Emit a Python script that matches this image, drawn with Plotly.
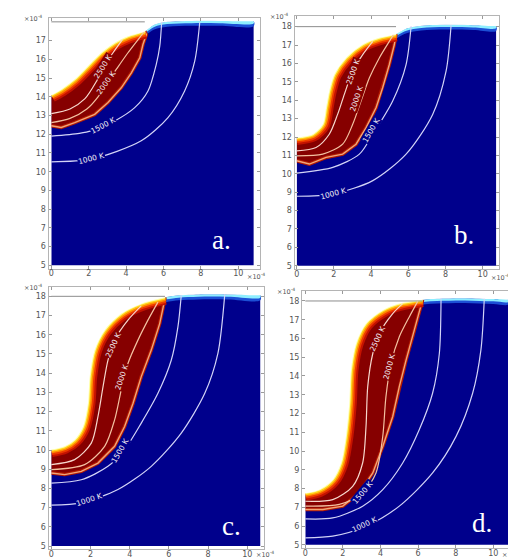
import plotly.graph_objects as go

W, H = 516, 558

# ---------------- data (lengths in units of 1e-4) ----------------
level_labels = ["2500 K", "2000 K", "1500 K", "1000 K"]
x_ticks = [0, 2, 4, 6, 8, 10]
y_ticks_a = list(range(5, 18))
y_ticks = list(range(5, 19))
panel_letters = ["a.", "b.", "c.", "d."]
x_max = [10.82, 10.72, 10.66, 10.8]

# ---- panel a ----
a_surf_x = [0, 0.53, 1.25, 1.96, 2.67, 3.39, 4.1, 5.0]
a_surf_y = [14.1, 14.39, 14.93, 15.64, 16.35, 16.88, 17.23, 17.5]
a_front_x = [0, 0.53, 1.25, 2.32, 3.03, 3.74, 4.28, 4.73, 4.9, 5.08, 5.0]
a_front_y = [12.45, 12.36, 12.62, 13.06, 13.69, 14.48, 15.28, 16.08, 16.79, 17.32, 17.5]
a_top_x = [5.0, 5.5, 6.2, 7.5, 9.0, 10.82]
a_top_y = [17.5, 17.85, 18.0, 18.05, 18.05, 18.03]
a_t2500_x = [0, 1.0, 1.8, 2.4, 2.8, 3.3, 3.8]
a_t2500_y = [13.1, 13.35, 13.9, 14.8, 15.6, 16.35, 17.05]
a_t2000_x = [0, 1.0, 1.9, 2.5, 2.95, 3.5, 4.1, 4.6, 4.95]
a_t2000_y = [12.62, 12.85, 13.35, 14.0, 14.7, 15.5, 16.35, 17.0, 17.45]
a_t1500_x = [0, 1.5, 2.14, 3.39, 4.46, 5.17, 5.61, 5.8, 5.9]
a_t1500_y = [11.9, 12.05, 12.18, 12.71, 13.42, 14.31, 15.72, 16.7, 17.97]
a_t1000_x = [0, 2.14, 4.81, 6.24, 7.13, 7.67, 7.94]
a_t1000_y = [10.53, 10.67, 11.65, 12.89, 14.31, 15.9, 17.99]
a_lab_x = [2.78, 2.95, 2.77, 2.14]
a_lab_y = [15.6, 14.75, 12.45, 10.68]
a_lab_ang = [-58, -55, -28, -14]
a_letter = (9.1, 6.35)

# ---- panel b ----
b_surf_x = [0, 0.86, 1.4, 1.58, 1.75, 2.02, 2.65, 3.55, 4.44, 5.34]
b_surf_y = [11.97, 12.15, 12.69, 13.6, 14.5, 15.4, 16.3, 17.03, 17.39, 17.6]
b_front_x = [0, 0.68, 1.58, 2.47, 3.19, 3.73, 4.27, 4.62, 4.98, 5.25, 5.34]
b_front_y = [10.71, 10.53, 10.89, 11.07, 11.61, 12.51, 13.6, 14.68, 15.94, 17.03, 17.6]
b_top_x = [5.34, 5.9, 6.7, 8.0, 9.5, 10.72]
b_top_y = [17.6, 17.9, 18.05, 18.1, 18.08, 18.03]
b_t2500_x = [0, 1.04, 1.75, 2.2, 2.56, 3.01, 3.55, 4.09]
b_t2500_y = [11.25, 11.43, 12.15, 13.23, 14.32, 15.58, 16.48, 17.2]
b_t2000_x = [0, 1.4, 2.47, 3.01, 3.46, 3.91, 4.44, 4.98, 5.2]
b_t2000_y = [10.98, 11.07, 11.61, 12.69, 13.96, 15.22, 16.3, 17.2, 17.55]
b_t1500_x = [0, 1.94, 3.37, 4.09, 5.16, 5.88, 6.15]
b_t1500_y = [10.04, 10.35, 11.07, 12.15, 13.96, 15.94, 18.02]
b_t1000_x = [0, 1.94, 4.09, 5.88, 7.31, 8.03, 8.3]
b_t1000_y = [8.78, 8.9, 9.63, 11.07, 13.23, 15.58, 18.08]
b_lab_x = [3.05, 3.22, 4.0, 2.0]
b_lab_y = [15.55, 14.1, 12.35, 8.93]
b_lab_ang = [-70, -72, -60, -15]
b_letter = (9.0, 6.7)

# ---- panel c ----
c_surf_x = [0, 0.68, 1.19, 1.62, 1.87, 1.96, 2.21, 2.72, 3.57, 4.59, 5.8]
c_surf_y = [10.02, 10.19, 10.53, 11.22, 12.43, 13.82, 15.2, 16.24, 17.1, 17.62, 17.95]
c_front_x = [0, 0.68, 1.53, 2.38, 3.23, 3.74, 4.17, 4.59, 5.1, 5.53, 5.78, 5.8]
c_front_y = [8.8, 8.72, 8.89, 9.32, 10.19, 11.22, 12.43, 13.82, 15.2, 16.58, 17.79, 17.95]
c_top_x = [5.8, 6.5, 7.5, 9.0, 10.66]
c_top_y = [17.95, 18.05, 18.1, 18.1, 18.05]
c_t2500_x = [0, 1.19, 2.04, 2.38, 2.64, 2.89, 3.23, 3.91, 4.59]
c_t2500_y = [9.24, 9.5, 10.36, 11.74, 13.3, 14.67, 15.72, 16.76, 17.5]
c_t2000_x = [0, 1.7, 2.72, 3.23, 3.57, 3.91, 4.42, 4.93, 5.44]
c_t2000_y = [8.98, 9.24, 10.19, 11.57, 13.13, 14.5, 15.72, 16.76, 17.7]
c_t1500_x = [0, 1.53, 2.89, 3.74, 4.59, 5.44, 6.12, 6.46, 6.63]
c_t1500_y = [8.28, 8.45, 9.15, 10.02, 11.4, 12.95, 14.67, 16.41, 18.05]
c_t1000_x = [0, 1.53, 3.4, 5.1, 6.63, 7.83, 8.5, 8.85]
c_t1000_y = [7.13, 7.25, 7.94, 9.15, 10.88, 12.95, 15.03, 18.1]
c_lab_x = [3.15, 3.57, 3.5, 1.96]
c_lab_y = [15.45, 13.8, 10.0, 7.4]
c_lab_ang = [-65, -72, -60, -18]
c_letter = (9.17, 6.05)

# ---- panel d ----
d_surf_x = [0, 0.74, 1.46, 1.9, 2.16, 2.34, 2.43, 2.7, 3.23, 4.12, 5.0, 6.24]
d_surf_y = [7.76, 7.94, 8.47, 9.36, 10.78, 12.55, 14.32, 15.73, 16.8, 17.51, 17.86, 18.07]
d_front_x = [0, 0.93, 1.99, 2.87, 3.59, 4.12, 4.65, 5.0, 5.36, 5.71, 6.06, 6.24]
d_front_y = [6.88, 6.88, 7.06, 7.76, 8.83, 10.24, 11.84, 13.43, 14.85, 16.09, 17.33, 18.07]
d_top_x = [6.24, 7.0, 8.5, 10.0, 10.8]
d_top_y = [18.07, 18.12, 18.15, 18.1, 18.07]
d_t2500_x = [0, 1.46, 2.52, 3.05, 3.23, 3.32, 3.59, 3.94, 4.65, 5.18]
d_t2500_y = [7.32, 7.41, 8.12, 9.36, 11.31, 13.43, 15.2, 16.27, 17.33, 17.86]
d_t2000_x = [0, 1.81, 3.05, 3.76, 4.12, 4.29, 4.56, 5.0, 5.53, 5.98]
d_t2000_y = [7.06, 7.15, 7.76, 8.83, 10.78, 12.9, 14.67, 16.09, 17.15, 17.98]
d_t1500_x = [0, 1.46, 3.05, 4.12, 5.18, 6.06, 6.77, 7.13, 7.22]
d_t1500_y = [6.38, 6.43, 7.06, 7.94, 9.36, 11.13, 13.08, 15.2, 18.12]
d_t1000_x = [0, 1.46, 3.23, 5.0, 6.77, 8.02, 8.9, 9.34, 9.52]
d_t1000_y = [5.37, 5.46, 5.99, 7.06, 8.83, 10.78, 13.08, 15.38, 18.12]
d_lab_x = [3.85, 4.47, 3.05, 3.15]
d_lab_y = [16.0, 14.5, 7.8, 6.1]
d_lab_ang = [-65, -75, -50, -25]
d_letter = (9.4, 6.17)

# ---------------- layout geometry (pixels) ----------------
# frame left/right/top/bottom, pixel of x=0, px per unit x, pixel of y=5, px per unit y
geom = [
    dict(fl=40.5, fr=251.7, ft=10.0, fb=261.7, x0=43.3, sx=18.7, y5=258.3, sy=18.8),
    dict(fl=286.5, fr=491.0, ft=8.0, fb=262.0, x0=288.7, sx=18.6, y5=258.7, sy=18.46),
    dict(fl=40.5, fr=256.0, ft=280.0, fb=543.0, x0=43.3, sx=19.6, y5=540.0, sy=19.28),
    dict(fl=294.0, fr=503.5, ft=284.0, fb=542.0, x0=297.3, sx=18.8, y5=538.7, sy=18.82),
]
exp_dy = [8, 8, 5, 6]

panels = [
    dict(surf=(a_surf_x, a_surf_y), front=(a_front_x, a_front_y), top=(a_top_x, a_top_y),
         iso=[(a_t2500_x, a_t2500_y), (a_t2000_x, a_t2000_y), (a_t1500_x, a_t1500_y), (a_t1000_x, a_t1000_y)],
         lab=(a_lab_x, a_lab_y, a_lab_ang), letter=a_letter, yt=y_ticks_a),
    dict(surf=(b_surf_x, b_surf_y), front=(b_front_x, b_front_y), top=(b_top_x, b_top_y),
         iso=[(b_t2500_x, b_t2500_y), (b_t2000_x, b_t2000_y), (b_t1500_x, b_t1500_y), (b_t1000_x, b_t1000_y)],
         lab=(b_lab_x, b_lab_y, b_lab_ang), letter=b_letter, yt=y_ticks),
    dict(surf=(c_surf_x, c_surf_y), front=(c_front_x, c_front_y), top=(c_top_x, c_top_y),
         iso=[(c_t2500_x, c_t2500_y), (c_t2000_x, c_t2000_y), (c_t1500_x, c_t1500_y), (c_t1000_x, c_t1000_y)],
         lab=(c_lab_x, c_lab_y, c_lab_ang), letter=c_letter, yt=y_ticks),
    dict(surf=(d_surf_x, d_surf_y), front=(d_front_x, d_front_y), top=(d_top_x, d_top_y),
         iso=[(d_t2500_x, d_t2500_y), (d_t2000_x, d_t2000_y), (d_t1500_x, d_t1500_y), (d_t1000_x, d_t1000_y)],
         lab=(d_lab_x, d_lab_y, d_lab_ang), letter=d_letter, yt=y_ticks),
]

BLUE = "#00008c"
DARK_RED = "#860000"
iso_colors = ["#f6d6cc", "#f3c0a0", "#d2d3f7", "#d2d3f7"]
label_bg = [DARK_RED, DARK_RED, BLUE, BLUE]

fig = go.Figure()
annotations = []
layout_axes = {}

for i, (p, g) in enumerate(zip(panels, geom)):
    k = i + 1
    xa = "x" if k == 1 else f"x{k}"
    ya = "y" if k == 1 else f"y{k}"
    xm = x_max[i]
    sx, sy = p["surf"]
    fx, fy = p["front"]
    tx, ty = p["top"]

    def add(x, y, **kw):
        fig.add_trace(go.Scatter(x=x, y=y, xaxis=xa, yaxis=ya, showlegend=False,
                                 hoverinfo="skip", **kw))

    # blue solid region
    add([0, xm] + tx[::-1] + [0], [5, 5] + ty[::-1] + [ty[0]],
        mode="lines", fill="toself", fillcolor=BLUE, line=dict(width=0))
    # top surface light band
    add(tx + tx[::-1], ty + [v - 0.26 for v in ty[::-1]], mode="lines", fill="toself",
        fillcolor="#1c4fd6", line=dict(width=0, shape="spline"))
    add(tx + tx[::-1], ty + [v - 0.12 for v in ty[::-1]], mode="lines", fill="toself",
        fillcolor="#8eeeff", line=dict(width=0, shape="spline"))
    # melt region
    add(fx + sx[::-1], fy + sy[::-1], mode="lines", fill="toself", fillcolor=DARK_RED,
        line=dict(width=0))
    # melt front edge
    add(fx, fy, mode="lines", line=dict(color="#b51a00", width=3.5))
    add(fx, fy, mode="lines", line=dict(color="#f0a478", width=1.4))
    # gradient along free surface
    for w, c in [(15, "#c41200"), (11, "#ee3a00"), (7.5, "#ff8a00"), (4.5, "#ffd21a"), (2, "#ffffa8")]:
        add(sx, sy, mode="lines", line=dict(color=c, width=w, shape="spline", smoothing=0.8))
    # void (white) above free surface
    vx = [-0.6] + sx + tx[1:] + [xm + 0.6, xm + 0.6, -0.6]
    vy = [sy[0]] + sy + ty[1:] + [ty[-1], 19.5, 19.5]
    add(vx, vy, mode="lines", fill="toself", fillcolor="white",
        line=dict(width=0, shape="spline", smoothing=0.8))
    # white left of x=0
    add([-1, 0, 0, -1], [4, 4, 19.5, 19.5], mode="lines", fill="toself", fillcolor="white",
        line=dict(width=0))
    # original top line at y=18
    add([0, tx[0]], [18, 18], mode="lines", line=dict(color="#8c8c8c", width=1))
    # isotherms
    for j, (ix, iy) in enumerate(p["iso"]):
        add(ix, iy, mode="lines", line=dict(color=iso_colors[j], width=1.2, shape="spline", smoothing=0.8))
    lx, ly, la = p["lab"]
    for j in range(4):
        annotations.append(dict(x=lx[j], y=ly[j], xref=xa, yref=ya, text=level_labels[j],
                                showarrow=False, textangle=la[j], bgcolor=label_bg[j],
                                borderpad=0,
                                font=dict(size=7.5, color="#f4f0f4", family="DejaVu Sans")))
    annotations.append(dict(x=p["letter"][0], y=p["letter"][1], xref=xa, yref=ya,
                            text=panel_letters[i], showarrow=False,
                            font=dict(size=27, color="white", family="Liberation Serif")))

    # axes
    xr = [(g["fl"] - g["x0"]) / g["sx"], (g["fr"] - g["x0"]) / g["sx"]]
    yr = [5 - (g["fb"] - g["y5"]) / g["sy"], 5 + (g["y5"] - g["ft"]) / g["sy"]]
    dom_x = [g["fl"] / W, g["fr"] / W]
    dom_y = [1 - g["fb"] / H, 1 - g["ft"] / H]
    common = dict(showgrid=False, zeroline=False, showline=True, linecolor="#b4b4b4",
                  linewidth=1, mirror="ticks", ticks="inside", ticklen=3, tickcolor="#9a9a9a",
                  tickfont=dict(size=8, color="#555555", family="DejaVu Sans"))
    layout_axes["xaxis" if k == 1 else f"xaxis{k}"] = dict(
        domain=dom_x, range=xr, anchor=ya, tickvals=x_ticks, ticklabelstandoff=-3, **common)
    layout_axes["yaxis" if k == 1 else f"yaxis{k}"] = dict(
        domain=dom_y, range=yr, anchor=xa, tickvals=p["yt"], **common)

    # x10^-4 exponents
    annotations.append(dict(x=(g["fl"] - 27) / W, y=1 - (g["ft"] + 1) / H, xref="paper", yref="paper",
                            text="×10<sup>-4</sup>", showarrow=False, xanchor="left", yanchor="middle",
                            font=dict(size=6.5, color="#555555", family="DejaVu Sans")))
    ex_px = g["x0"] + 10.4 * g["sx"]
    if ex_px + 21 > W - 2:
        ex, xanc = (W - 6) / W, "right"
    else:
        ex, xanc = ex_px / W, "left"
    annotations.append(dict(x=ex, y=1 - (g["fb"] + exp_dy[i]) / H,
                            xref="paper", yref="paper", borderpad=0,
                            text="×10<sup>-4</sup>", showarrow=False, xanchor=xanc, yanchor="middle",
                            font=dict(size=6.5, color="#555555", family="DejaVu Sans")))

fig.update_layout(width=W, height=H, margin=dict(l=0, r=0, t=0, b=0),
                  paper_bgcolor="white", plot_bgcolor="white",
                  annotations=annotations, **layout_axes)

fig.write_html("out.html")
